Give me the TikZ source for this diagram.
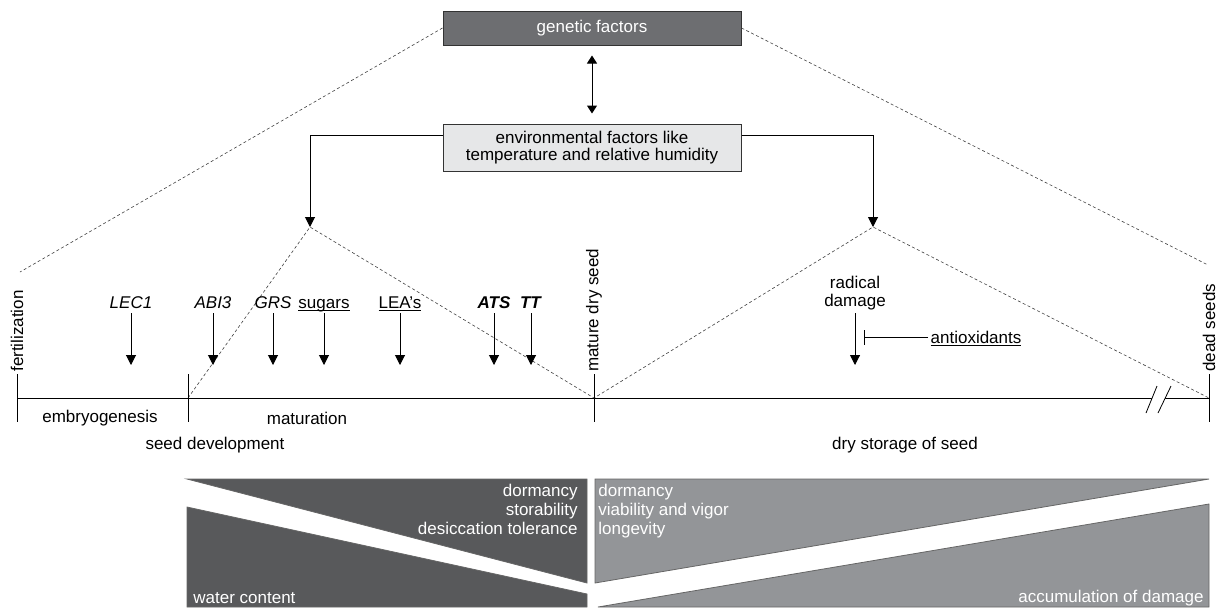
\documentclass[tikz,border=0pt]{standalone}
\usepackage{fontspec}
\setmainfont{Liberation Sans}
\usetikzlibrary{arrows.meta}
\definecolor{genegray}{HTML}{6D6E71}
\definecolor{envgray}{HTML}{E6E7E8}
\definecolor{seeddark}{HTML}{58595B}
\definecolor{seedlight}{HTML}{939598}
\newcommand{\uln}[1]{\underline{\smash{#1}}}
\tikzset{
  lbl/.style={font=\fontsize{8.5}{8.8}\selectfont, inner sep=1pt},
  trait/.style={lbl, font=\fontsize{8.5}{9.5}\selectfont, text=white},
  factorbox/.style={lbl, draw=black!80, line width=0.5pt, minimum width=149pt, align=center},
  pointer/.style={-{Triangle[width=5pt,length=5pt]}, line width=0.5pt},
  fade/.style={dash pattern=on 1.5pt off 1.2pt, line width=0.3pt, black!75},
  vlabel/.style={lbl, rotate=90, anchor=west},
  panel/.style={draw=black!60, line width=0.4pt}
}

\begin{document}
\begin{tikzpicture}[x=0.5pt,y=-0.5pt]
	\useasboundingbox (0,0) rectangle (1220,607);
	\node[factorbox, fill=genegray, text=white, minimum height=17pt] (genetic) at (592,28) {genetic factors};
	\node[factorbox, fill=envgray, minimum height=23.5pt] (env) at (592,147.5) {environmental factors like\\temperature and relative humidity};
	\draw[{Triangle[width=5pt,length=4pt]}-{Triangle[width=5pt,length=4pt]}, line width=0.5pt, shorten <=5pt, shorten >=5pt] (genetic) -- (env);
	
	\coordinate (fert) at (17,398);
	\coordinate (dev) at (188,398);
	\coordinate (mature) at (594,398);
	\coordinate (dead) at (1209,398);
	\coordinate (peakL) at (310,227);
	\coordinate (peakR) at (873,227);
	\coordinate (fadeL) at (20,272);
	\coordinate (fadeR) at (1208,265);
	\coordinate (top) at (0,313);
	\coordinate (tips) at (0,365);
	\coordinate (block) at (864,337);
	
	\draw[pointer] ([yshift=6.25pt]env.west) -| (peakL);
	\draw[pointer] ([yshift=6.25pt]env.east) -| (peakR);
	\draw[fade] (genetic.west) -- (fadeL) (genetic.east) -- (fadeR)
	(dev) -- (peakL) -- (mature) -- (peakR) -- (dead);
	
	% time line
	\draw[line width=0.5pt] (fert) -- (dead);
	\foreach \t in {fert,dev,mature,dead}
	\draw[line width=0.5pt] ([yshift=12pt]\t) -- ([yshift=-12pt]\t);
	\fill[white] (1146,413) -- (1157,386) -- (1171,386) -- (1158,413) -- cycle;
	\draw[line width=0.4pt] (1146,413) -- (1157,386) (1158,413) -- (1171,386);
	\node[vlabel] (fertlbl) at ([yshift=12pt]fert) {fertilization};
	\node[vlabel] (maturelbl) at ([yshift=12pt]mature) {mature dry seed};
	\node[vlabel] (deadlbl) at ([yshift=12pt]dead) {dead seeds};
	
	\foreach \n/\x/\t in {lec/131/\textit{LEC1}, abi/213/\textit{ABI3}, grs/273/\textit{GRS},
		sug/324/\uln{sugars}, lea/400/\uln{LEA's}, ats/494/\textbf{\textit{ATS}}, tt/531/\textbf{\textit{TT}}}
	{
		\node[lbl, anchor=base] (\n) at (\x,308) {\t};
		\draw[pointer] (\n |- top) -- (\n |- tips);
	}
	\node[lbl, align=center] (radical) at (855,293) {radical\\damage};
	\draw[pointer] (radical |- top) -- (radical |- tips);
	\node[lbl, anchor=base] (anti) at (976,343) {\uln{antioxidants}};
	\draw[-{Bar[width=7.5pt]}, line width=0.4pt] (anti.west |- block) -- (block);
	
	\node[lbl] (embryo) at (100,418) {embryogenesis};
	\node[lbl] (matur) at (307,418) {maturation};
	\node[lbl] (seeddev) at (215,445) {seed development};
	\node[lbl] (storage) at (905,445) {dry storage of seed};
	
	% seed properties
	\filldraw[panel, fill=seeddark] (187,479) -- (587,479) -- (587,583) -- cycle;
	\filldraw[panel, fill=seeddark] (187,507) -- (587,594) -- (587,607) -- (187,607) -- cycle;
	\filldraw[panel, fill=seedlight] (595,479) -- (1209,479) -- (595,583) -- cycle;
	\filldraw[panel, fill=seedlight] (598,607) -- (1209,504) -- (1209,607) -- cycle;
	\node[trait, align=right, anchor=north east] (lefttraits) at (580,482) {dormancy\\storability\\desiccation tolerance};
	\node[trait, align=left, anchor=north west] (righttraits) at (596,482) {dormancy\\viability and vigor\\longevity};
	\node[trait, anchor=base west] (water) at (191,603) {water content};
	\node[trait, anchor=base east] (damage) at (1206,602) {accumulation of damage};
\end{tikzpicture}
\end{document}
